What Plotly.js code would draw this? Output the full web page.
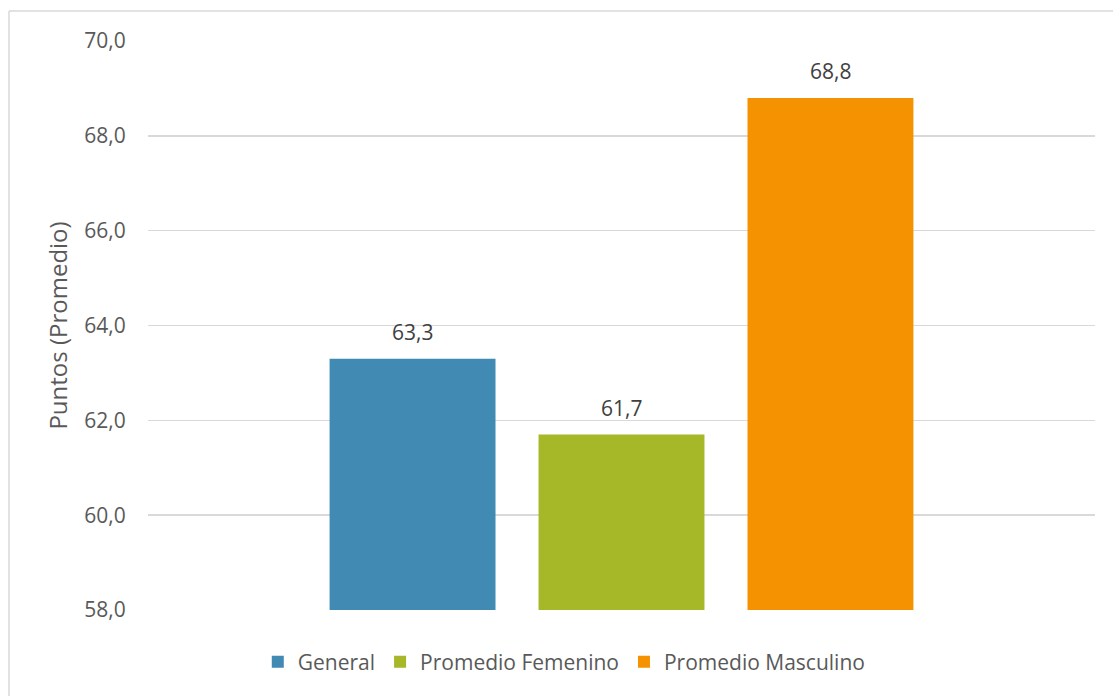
<!DOCTYPE html>
<html>
<head>
<meta charset="utf-8">
<script src="https://cdn.plot.ly/plotly-3.0.1.min.js"></script>
<style>html,body{margin:0;padding:0;background:#fff;}#chart{width:1113px;height:696px;}</style>
</head>
<body>
<div id="chart"></div>
<script>
var seriesNames = ["General", "Promedio Femenino", "Promedio Masculino"];
var seriesValues = [63.3, 61.7, 68.8];
var seriesColors = ["#418AB3", "#A6B727", "#F59201"];
var yTicks = [58, 60, 62, 64, 66, 68, 70];

var FONT = "Open Sans, Liberation Sans, sans-serif";

var traces = seriesNames.map(function (name, i) {
  return {
    type: "bar",
    name: name,
    x: [name],
    y: [seriesValues[i]],
    width: 0.794,
    marker: {color: seriesColors[i]},
    hoverinfo: "skip"
  };
});

var annotations = seriesNames.map(function (name, i) {
  return {
    xref: "x", yref: "y",
    x: name, y: seriesValues[i],
    text: seriesValues[i].toFixed(1).replace(".", ","),
    showarrow: false,
    xanchor: "center", yanchor: "bottom",
    yshift: 11,
    font: {family: FONT, size: 21, color: "#404040"}
  };
});

var layout = {
  width: 1113,
  height: 696,
  margin: {l: 148, r: 18, t: 41, b: 86, autoexpand: false},
  paper_bgcolor: "#ffffff",
  plot_bgcolor: "#ffffff",
  separators: ",.",
  barmode: "overlay",
  showlegend: true,
  legend: {
    orientation: "h",
    xref: "container", yref: "container",
    x: 0.507, xanchor: "center",
    y: (696 - 662) / 696, yanchor: "middle",
    font: {family: FONT, size: 21, color: "#595959"},
    traceorder: "normal"
  },
  xaxis: {
    type: "category",
    categoryarray: seriesNames,
    range: [-1.266, 3.266],
    showticklabels: false,
    showgrid: false,
    zeroline: false,
    showline: false,
    ticks: "",
    fixedrange: true
  },
  yaxis: {
    range: [58, 70],
    tickvals: yTicks,
    tickformat: ".1f",
    showgrid: true,
    gridcolor: "#d9d9d9",
    gridwidth: 1.5,
    zeroline: false,
    showline: false,
    ticks: "outside",
    ticklen: 17,
    tickcolor: "rgba(0,0,0,0)",
    tickfont: {family: FONT, size: 21, color: "#595959"},
    title: {text: "Puntos (Promedio)", font: {family: FONT, size: 24, color: "#595959"}, standoff: 9},
    automargin: false,
    fixedrange: true
  },
  annotations: annotations,
  shapes: [
    {type: "line", xref: "paper", yref: "paper", x0: (9 - 148) / 947, x1: (1113 - 148) / 947, y0: (610 - 11) / 569, y1: (610 - 11) / 569, line: {color: "#d9d9d9", width: 1.5}},
    {type: "line", xref: "paper", yref: "paper", x0: (9 - 148) / 947, x1: (9 - 148) / 947, y0: (610 - 11) / 569, y1: (610 - 700) / 569, line: {color: "#d9d9d9", width: 1.5}}
  ]
};

Plotly.newPlot("chart", traces, layout, {displayModeBar: false, staticPlot: true});
</script>
</body>
</html>
